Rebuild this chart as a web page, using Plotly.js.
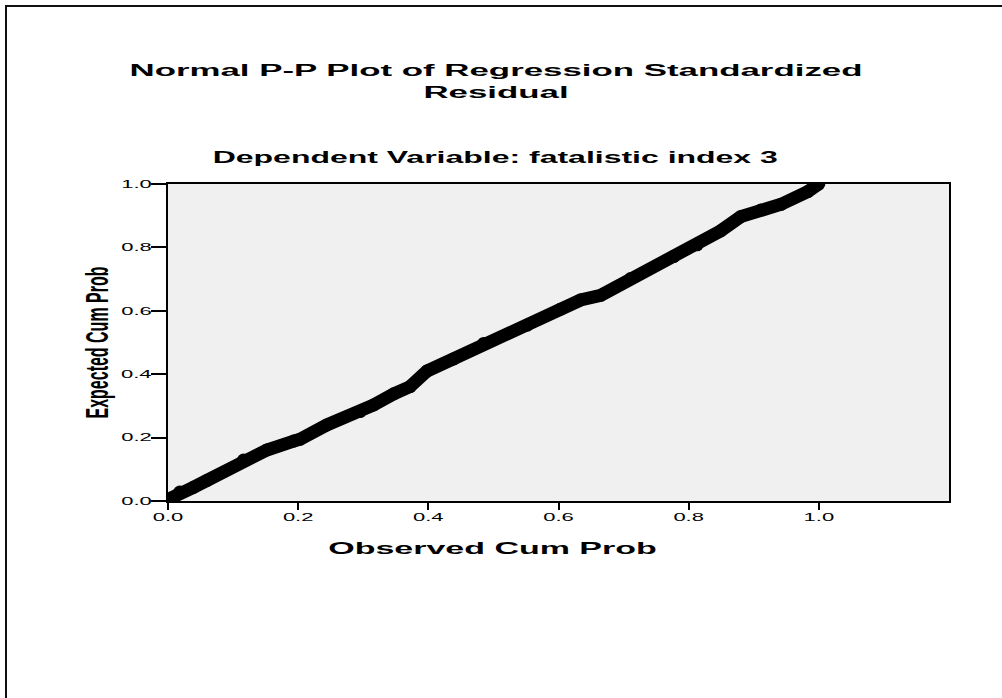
<!DOCTYPE html>
<html>
<head>
<meta charset="utf-8">
<script src="https://cdn.plot.ly/plotly-3.0.1.min.js"></script>
<style>
  html, body { margin: 0; padding: 0; background: #ffffff; }
  #chart { width: 1002px; height: 698px; }
  /* the reference image is stretched horizontally; emulate with a horizontal scale on text only */
  #chart g.g-gtitle {
    transform-box: fill-box; transform-origin: center; transform: scaleX(2.05);
  }
  #chart g.annotation, #chart g.xtick {
    transform-box: fill-box; transform-origin: center; transform: scaleX(2);
  }
  #chart g.g-xtitle {
    transform-box: fill-box; transform-origin: center; transform: translateX(-66px) scaleX(2);
  }
  #chart g.g-ytitle {
    transform-box: fill-box; transform-origin: center; transform: scaleX(2);
  }
  #chart g.ytick {
    transform-box: fill-box; transform-origin: right center; transform: scaleX(2);
  }
</style>
</head>
<body>
<div id="chart"></div>
<script>
// Observed vs expected cumulative probability
const obsCumProb = [0.000, 0.018, 0.039, 0.060, 0.116, 0.152, 0.193, 0.203, 0.244, 0.295, 0.316, 0.347, 0.372, 0.398, 0.439, 0.485, 0.552, 0.603, 0.634, 0.665, 0.711, 0.777, 0.813, 0.849, 0.880, 0.911, 0.942, 0.983, 1.000];
const expCumProb = [0.005, 0.028, 0.043, 0.065, 0.129, 0.161, 0.189, 0.195, 0.240, 0.282, 0.303, 0.338, 0.361, 0.410, 0.448, 0.497, 0.555, 0.605, 0.634, 0.649, 0.702, 0.771, 0.808, 0.852, 0.897, 0.918, 0.936, 0.976, 1.000];

const xTickVals = [0.0, 0.2, 0.4, 0.6, 0.8, 1.0];
const xTickText = ["0.0", "0.2", "0.4", "0.6", "0.8", "1.0"];
const yTickVals = [0.0, 0.2, 0.4, 0.6, 0.8, 1.0];
const yTickText = ["0.0", "0.2", "0.4", "0.6", "0.8", "1.0"];

const titleText = "Normal P-P Plot of Regression Standardized<br>Residual";
const subtitleText = "Dependent Variable: fatalistic index 3";
const xTitleText = "Observed Cum Prob";
const yTitleText = "Expected Cum Prob";

const W = 1002, H = 698;
const L = 168, R = 53, T = 184, B = 197;
const pw = W - L - R, ph = H - T - B;
const px2x = p => (p - L) / pw;
const py2y = p => (H - B - p) / ph;

const trace = {
  type: "scatter",
  mode: "lines+markers",
  x: obsCumProb,
  y: expCumProb,
  line: { color: "#000000", width: 13 },
  marker: { color: "#000000", size: 13 },
  hoverinfo: "x+y",
  showlegend: false
};

const fam = "Liberation Sans, Arial, sans-serif";

const layout = {
  width: W, height: H,
  margin: { l: L, r: R, t: T, b: B, pad: 0 },
  paper_bgcolor: "#ffffff",
  plot_bgcolor: "#f0f0f0",
  showlegend: false,
  title: {
    text: titleText,
    font: { family: fam, size: 17, color: "#000000", weight: "bold" },
    x: 0.495, xanchor: "center", xref: "container",
    y: 1 - 76 / H, yanchor: "top", yref: "container"
  },
  xaxis: {
    range: [0, 1.2],
    tickmode: "array", tickvals: xTickVals, ticktext: xTickText,
    ticks: "outside", ticklen: 7, tickwidth: 2, tickcolor: "#000000",
    ticklabelstandoff: -2,
    showline: true, linewidth: 2, linecolor: "#000000", mirror: true,
    showgrid: false, zeroline: false,
    tickfont: { family: fam, size: 11, color: "#000000" },
    title: { text: xTitleText, font: { family: fam, size: 17, color: "#000000", weight: "bold" }, standoff: 20 },
    fixedrange: true
  },
  yaxis: {
    range: [0, 1],
    tickmode: "array", tickvals: yTickVals, ticktext: yTickText,
    ticks: "outside", ticklen: 15, tickwidth: 2, tickcolor: "#000000",
    ticklabelstandoff: -3,
    showline: true, linewidth: 2, linecolor: "#000000", mirror: true,
    showgrid: false, zeroline: false,
    tickfont: { family: fam, size: 11, color: "#000000" },
    title: { text: yTitleText, font: { family: fam, size: 16, color: "#000000", weight: "bold" }, standoff: 30 },
    fixedrange: true
  },
  annotations: [{
    text: subtitleText,
    xref: "paper", yref: "paper",
    x: px2x(495), y: py2y(157.5),
    xanchor: "center", yanchor: "middle",
    showarrow: false,
    font: { family: fam, size: 16, color: "#000000", weight: "bold" }
  }],
  shapes: [{
    type: "rect", xref: "paper", yref: "paper",
    x0: px2x(6), x1: px2x(1012), y0: py2y(712), y1: py2y(6),
    line: { color: "#111111", width: 2 },
    fillcolor: "rgba(0,0,0,0)", layer: "below"
  }]
};

Plotly.newPlot("chart", [trace], layout, { displayModeBar: false, staticPlot: true });
</script>
</body>
</html>
